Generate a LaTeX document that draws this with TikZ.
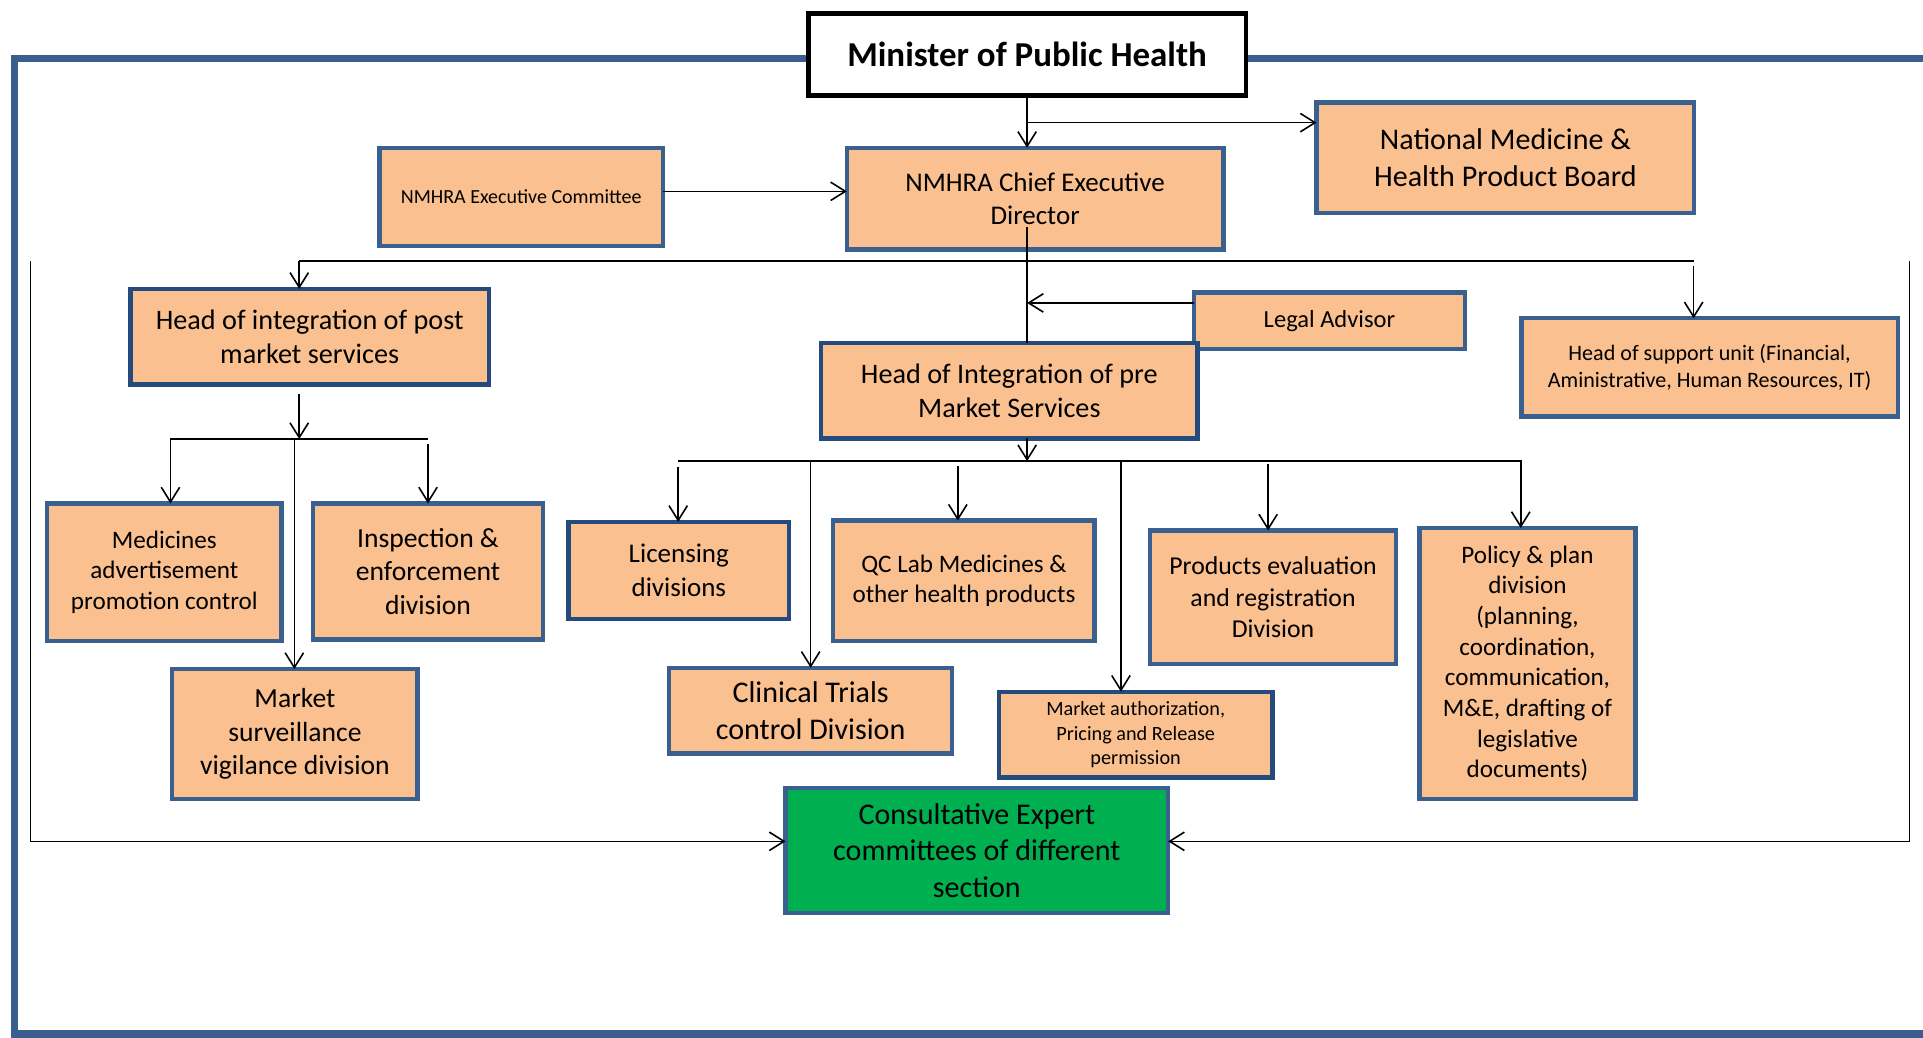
\documentclass[tikz,border=0pt]{standalone}
\usepackage{fontspec}
\setmainfont{Carlito}
\usetikzlibrary{arrows.meta}

\definecolor{boxfill}{HTML}{FAC090}
\definecolor{boxline}{HTML}{3A6090}
\definecolor{boxdark}{HTML}{254A7C}
\definecolor{framecol}{HTML}{3A5F8E}
\definecolor{expert}{HTML}{00B050}

\newcommand{\fsz}[2]{\fontsize{#1}{#2}\selectfont}

\begin{document}
\begin{tikzpicture}[x=1pt,y=-1pt,
    unit/.style={draw=boxline,line width=3.5pt,fill=boxfill,align=center,inner sep=2pt,outer sep=0pt},
    darkunit/.style={unit,draw=boxdark},
    link/.style={line width=1.3pt},
    arr/.style={link,-{Straight Barb[length=12pt,width=15pt,line width=1.3pt]}}]
  \useasboundingbox (0,0) rectangle (1568,846);

  % blue frame round the authority
  \draw[framecol,line width=6pt] (1568,47.5) -| (12,843) -- (1568,843);

  % top level
  \node[draw=black,line width=4pt,fill=white,minimum width=357pt,minimum height=67pt,
        font=\fsz{28.5}{34}\bfseries] (minister) at (837.5,44.5) {Minister of Public Health};
  \node[unit,minimum width=307pt,minimum height=83pt,font=\fsz{22}{27}] (ced) at (844,162)
        {NMHRA Chief Executive\\Director};
  \node[unit,minimum width=308pt,minimum height=90pt,font=\fsz{24.5}{30}] (board) at (1227.5,128.5)
        {National Medicine \&\\Health Product Board};
  \node[unit,minimum width=231pt,minimum height=80pt,font=\fsz{16.3}{20}] (execcom) at (425,160.5)
        {NMHRA Executive Committee};
  \node[unit,minimum width=221pt,minimum height=46pt,font=\fsz{20}{24}] (legal) at (1084,261.5)
        {Legal Advisor};

  % heads of integration and support
  \node[darkunit,minimum width=292pt,minimum height=78pt,font=\fsz{23}{28}] (post) at (252.5,274.5)
        {Head of integration of post\\market services};
  \node[darkunit,minimum width=307pt,minimum height=78pt,font=\fsz{23}{28}] (pre) at (823,318.5)
        {Head of Integration of pre\\Market Services};
  \node[unit,minimum width=307pt,minimum height=80pt,font=\fsz{18}{22}] (support) at (1394,299.5)
        {Head of support unit (Financial,\\Aministrative, Human Resources, IT)};

  % post market divisions
  \node[unit,minimum width=191pt,minimum height=112pt,font=\fsz{20.5}{25}] (advert) at (134,466.5)
        {Medicines\\advertisement\\promotion control};
  \node[unit,minimum width=187pt,minimum height=111pt,font=\fsz{22.5}{27.5}] (inspect) at (349,466)
        {Inspection \&\\enforcement\\division};
  \node[unit,minimum width=200pt,minimum height=106pt,font=\fsz{22.5}{27.5}] (surv) at (240.5,598.5)
        {Market\\surveillance\\vigilance division};

  % pre market divisions
  \node[darkunit,minimum width=180pt,minimum height=79pt,font=\fsz{22}{27}] (licens) at (553.5,465)
        {Licensing\\divisions};
  \node[unit,minimum width=213pt,minimum height=98pt,font=\fsz{20.5}{25}] (qclab) at (786,473.5)
        {QC Lab Medicines \&\\other health products};
  \node[unit,minimum width=201pt,minimum height=109pt,font=\fsz{21}{25.5}] (prodeval) at (1038,487)
        {Products evaluation\\and registration\\Division};
  \node[unit,minimum width=176pt,minimum height=221pt,font=\fsz{20.5}{25}] (policy) at (1245.5,541)
        {Policy \& plan\\division\\(planning,\\coordination,\\communication,\\M\&E, drafting of\\legislative\\documents)};
  \node[unit,minimum width=231pt,minimum height=70pt,font=\fsz{24.5}{30}] (clinical) at (661,579.5)
        {Clinical Trials\\control Division};
  \node[darkunit,minimum width=223pt,minimum height=70pt,font=\fsz{16.5}{20}] (mauth) at (926,599)
        {Market authorization,\\Pricing and Release\\permission};

  \node[unit,fill=expert,minimum width=312pt,minimum height=102pt,font=\fsz{24.5}{30}] (consult) at (796.5,693.5)
        {Consultative Expert\\committees of different\\section};

  % reporting lines from the minister
  \draw[arr] (minister.south) -- (minister.south |- ced.north);
  \coordinate (split) at (837.5,100);
  \draw[arr] (split) -- (split -| board.west);
  \draw[arr] (execcom.east |- 0,156) -- (ced.west |- 0,156);
  \coordinate (trunk) at (837.5,185);
  \draw[link] (trunk) -- (trunk |- pre.north);
  \draw[arr] (legal.west |- 0,247) -- (trunk |- 0,247);

  % distribution line under the director
  \coordinate (busL) at (244,213);
  \coordinate (busR) at (1381,213);
  \draw[link] (busL) -- (busR);
  \draw[arr] (busL) -- (busL |- post.north);
  \draw[arr] (1381,217) -- (busR |- support.north);

  % everybody feeds the expert committees
  \draw[arr] (25,213) |- (consult.west |- 0,686);
  \draw[arr] (1557,213) |- (consult.east |- 0,686);

  % post market branch
  \coordinate (postbus) at (244,358);
  \draw[arr] (postbus |- 0,321) -- (postbus);
  \draw[link] (139,358) -- (349,358);
  \draw[arr] (139,358) -- (139,0 |- advert.north);
  \draw[arr] (349,362) -- (inspect.north);
  \draw[arr] (240,358) -- (240,0 |- surv.north);

  % pre market branch
  \coordinate (prebus) at (837.5,376);
  \draw[arr] (pre.south -| prebus) -- (prebus);
  \draw[link] (553,376) -- (1239,376);
  \foreach \px/\py/\dest in {553/381/licens,661/376/clinical,781/380/qclab,
                             914/376/mauth,1034/378/prodeval,1240/375/policy}
    \draw[arr] (\px,\py) -- (\px,0 |- \dest.north);
\end{tikzpicture}
\end{document}
